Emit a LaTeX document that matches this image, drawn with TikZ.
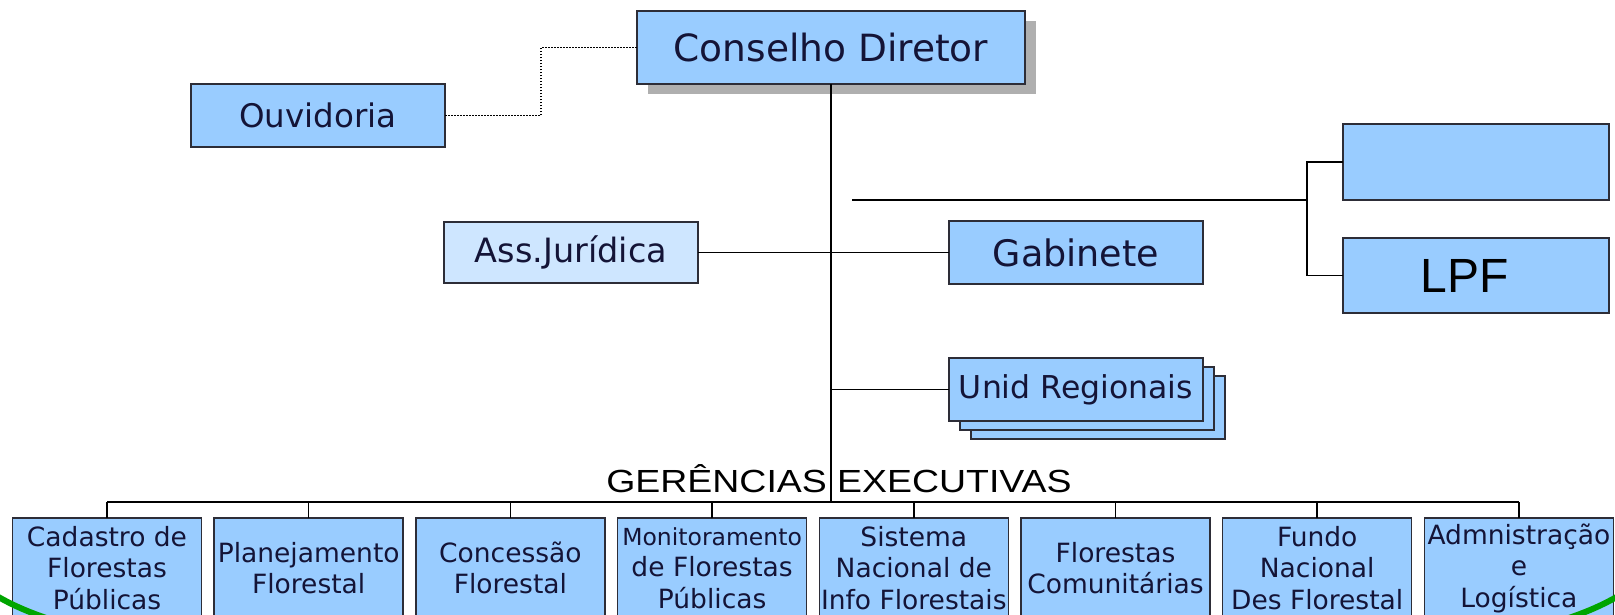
\documentclass[tikz,border=0pt]{standalone}
\usepackage{fontspec}
\setmainfont{DejaVu Sans}
\newfontfamily\arialfont{Liberation Sans}
\newfontfamily\titlefont{Liberation Sans}[FakeStretch=1.17]
\usetikzlibrary{shadows}
\definecolor{boxblue}{RGB}{153,204,255}
\definecolor{boxpale}{RGB}{206,230,255}
\definecolor{boxline}{RGB}{45,45,55}
\definecolor{navytext}{RGB}{20,20,55}
\definecolor{shadowgray}{RGB}{175,175,175}
\definecolor{framegreen}{RGB}{0,165,0}
\begin{document}
\begin{tikzpicture}[x=1pt,y=-1pt,
    unit/.style={draw=boxline,line width=1.5pt,fill=boxblue,text=navytext,inner sep=0pt,outer sep=0pt,minimum width=254pt,minimum height=63pt},
    gerbox/.style={unit,minimum width=189pt,minimum height=100pt,align=center,font=\fontsize{26.5}{31.5}\selectfont},
    link/.style={line width=1.5pt,black}]
        \useasboundingbox (0,0) rectangle (1615,615);
        \clip (0,0) rectangle (1615,615);
        \path (831,47.5) node [unit,minimum width=388pt,minimum height=73pt,font=\fontsize{37.5}{42}\selectfont,
            drop shadow={shadow xshift=11pt,shadow yshift=-10pt,fill=shadowgray,opacity=1}](conselho){Conselho Diretor};
        \path (318,115.5) node [unit,font=\fontsize{32.5}{38}\selectfont](ouvidoria){Ouvidoria};
        \path (571,252.5) node [unit,fill=boxpale,minimum height=61pt,font=\fontsize{33.5}{38}\selectfont](assjur){Ass.Jurídica};
        \path (1076,252.5) node [unit,font=\fontsize{36.5}{40}\selectfont](gabinete){Gabinete};
        \path (1098,407.5) node [unit](unidback2){} (1087,398.5) node [unit](unidback1){};
        \path (1076,389.5) node [unit,font=\fontsize{31.5}{36}\selectfont](unid){Unid Regionais};
        \path (1476,162) node [unit,minimum width=266pt,minimum height=76pt](blankbox){};
        \path (1476,275.5) node [unit,minimum width=266pt,minimum height=75pt,text=black,font=\arialfont\fontsize{48}{52}\selectfont](lpf){LPF\kern22pt};
        \path (839,492) node [anchor=base,inner sep=0pt,font=\titlefont\fontsize{32}{36}\selectfont](gerencias){GERÊNCIAS EXECUTIVAS};

        \foreach \i/\txt in {0/{Cadastro de\\Florestas\\Públicas},1/{Planejamento\\Florestal},2/{Concessão\\Florestal},
            3/{{\fontsize{23.5}{31.5}\selectfont Monitoramento}\\de Florestas\\Públicas},4/{Sistema\\Nacional de\\Info Florestais},
            5/{Florestas\\Comunitárias},6/{Fundo\\Nacional\\Des Florestal},7/{Admnistração\\e\\Logística}}
            \path (107+201.7*\i,568) node [gerbox](ger\i){\txt};

        \coordinate (busmid) at (831,502);
        \coordinate (lpfline) at (852,200);
        \coordinate (lpffork) at (1307,200);
        \draw[link] (conselho.south) -- (busmid);
        \draw[link] (ger0.north |- busmid) -- (ger7.north |- busmid);
        \foreach \i in {0,...,7}
            \draw[link] (ger\i.north) -- (ger\i.north |- busmid);
        \draw[link] (assjur.east) -- (assjur.east -| conselho.south);
        \draw[link] (gabinete.west) -- (gabinete.west -| conselho.south);
        \draw[link] (unid.west) -- (unid.west -| conselho.south);
        \draw[line width=1.2pt,dash pattern=on 1.5pt off 1.5pt] (ouvidoria.east) -- ++(96,0) |- (conselho.west);
        \draw[link] (lpfline) -- (lpffork);
        \draw[link] (blankbox.west) -| (lpffork) |- (lpf.west);

        \draw[framegreen,line width=6pt] (-5,595) .. controls (12,605) and (28,612) .. (52,620);
        \draw[framegreen,line width=6pt] (1620,595) .. controls (1603,605) and (1587,612) .. (1563,620);
    \end{tikzpicture}
\end{document}
